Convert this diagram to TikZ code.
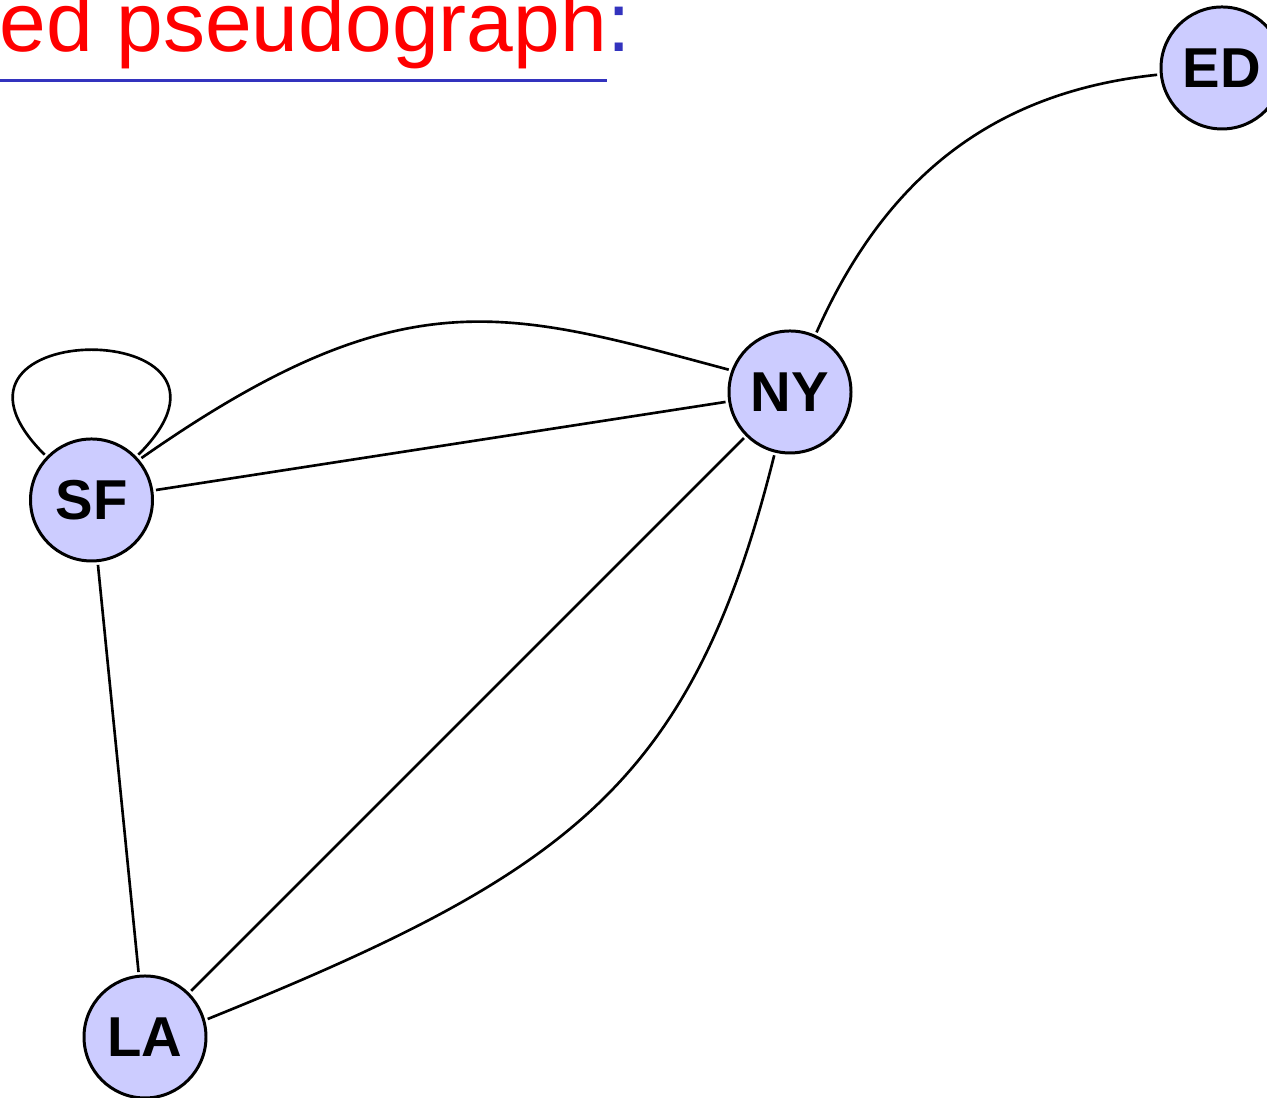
\documentclass[tikz,border=0pt]{standalone}
\usepackage{fontspec}
\setmainfont{Liberation Sans}
\definecolor{nodefill}{RGB}{204,204,255}
\definecolor{ulblue}{RGB}{51,51,190}
\begin{document}
\begin{tikzpicture}[
  city/.style={circle, draw=black, line width=0.85pt, fill=nodefill,
    minimum size=1.22cm, inner sep=0pt, outer sep=1.2pt,
    font=\fontsize{16pt}{18pt}\selectfont\bfseries},
  edge/.style={draw=black, line width=0.75pt},
  title/.style={anchor=base west, inner sep=0pt, outer sep=0pt,
    font=\fontsize{23.9pt}{28pt}\selectfont}
]
\useasboundingbox (0,0) rectangle (12.67,10.98);
\clip (0,0) rectangle (12.67,10.98);

% title
\node[title] (ttl) at (-0.235,10.465) {\textcolor{red}{ted pseudograph}\textcolor{ulblue}{:}};
\coordinate (ulA) at (-0.5,10.175);
\coordinate (ulB) at (6.07,10.175);
\draw[ulblue, line width=0.85pt] (ulA) -- (ulB);

% nodes
\node[city] (SF) at (0.915,5.98) {SF};
\node[city] (NY) at (7.90,7.06) {NY};
\node[city] (ED) at (12.22,10.30) {ED};
\node[city] (LA) at (1.45,0.61) {LA};

% edges
\draw[edge] (NY) to[out=66,in=186] (ED);
\draw[edge] (SF.40) .. controls +(35:3.2) and +(165:2.3) .. (NY.160);
\draw[edge] (SF) -- (NY);
\draw[edge] (SF.136) .. controls +(135:1.98) and +(45:1.98) .. (SF.44);
\draw[edge] (NY.256) .. controls +(256:3.4) and +(22:3.9) .. (LA.16);
\draw[edge] (NY) -- (LA);
\draw[edge] (SF) -- (LA);
\end{tikzpicture}
\end{document}
